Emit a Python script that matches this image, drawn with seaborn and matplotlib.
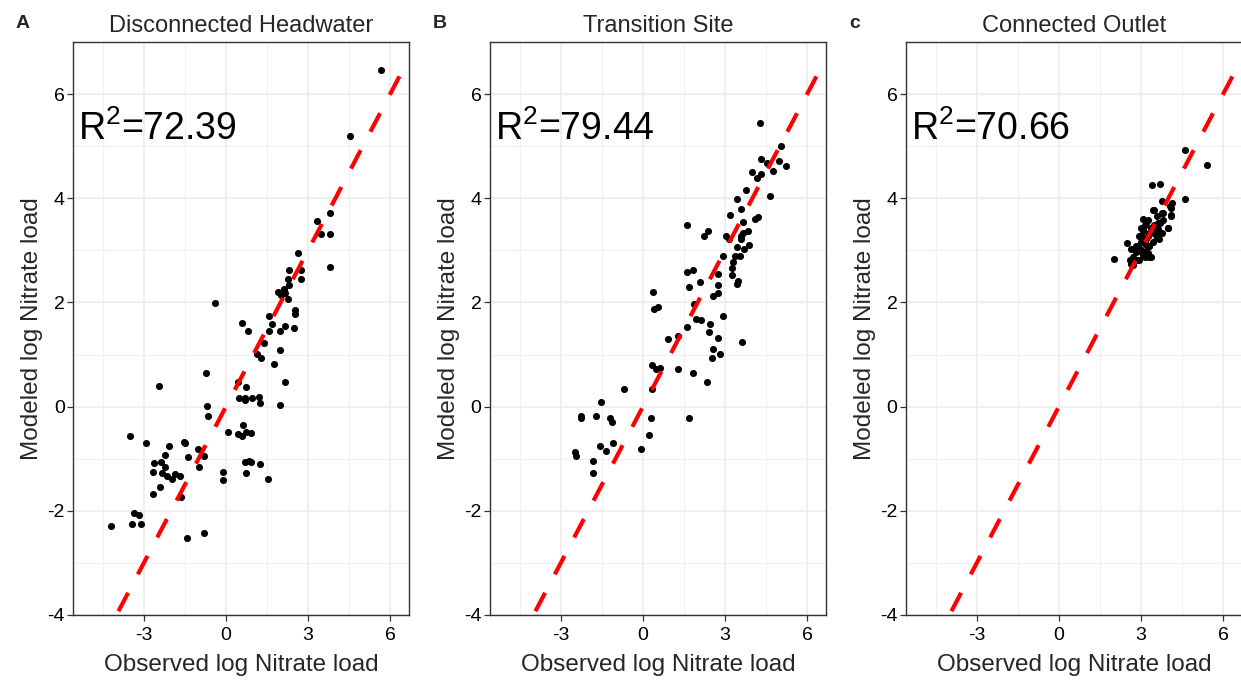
import numpy as np
import pandas as pd
import seaborn as sns
from matplotlib import pyplot as plt
from matplotlib.ticker import MultipleLocator

# Disconnected Headwater (observed vs modeled log nitrate load)
obs_headwater = [5.68, 4.53, 3.33, 3.80, 3.49, 3.80, 3.80, 2.65, 2.29, 2.76,
                 2.25, 2.76, 2.29, 1.91, 2.12, 2.14, 2.00, 2.25, -0.40, 1.57,
                 2.53, 2.53, 0.57, 0.79, 1.70, 2.17, 1.57, 1.97, 2.48, 1.39,
                 1.14, 1.29, 1.97, 1.75, 2.17, -0.73, -2.45, 0.43, 0.75, 0.47,
                 0.70, 0.70, 0.97, 1.22, 1.24, 1.97, -0.70, -0.67, 0.61, 0.06,
                 0.43, 0.57, 0.75, 0.93, -3.49, -2.93, -2.08, -1.52, -1.48, -1.03,
                 -2.21, -1.39, -0.80, -2.63, -2.38, -2.21, -0.97, -2.66, -2.34, -2.16,
                 -1.97, -1.86, -1.67, -2.40, -2.66, -1.65, -0.12, -0.12, 0.72, 1.25,
                 0.69, 0.84, 0.93, 1.52, -3.36, -3.18, -4.21, -3.44, -3.11, -0.80,
                 -1.43]
mod_headwater = [6.46, 5.19, 3.57, 3.72, 3.31, 3.31, 2.69, 2.95, 2.62, 2.63,
                 2.45, 2.45, 2.34, 2.21, 2.26, 2.18, 2.15, 2.07, 1.99, 1.74,
                 1.85, 1.78, 1.60, 1.46, 1.58, 1.55, 1.46, 1.46, 1.51, 1.22,
                 1.01, 0.93, 1.08, 0.82, 0.48, 0.64, 0.40, 0.48, 0.37, 0.16,
                 0.12, 0.16, 0.16, 0.19, 0.07, 0.04, 0.01, -0.18, -0.35, -0.49,
                 -0.53, -0.56, -0.48, -0.51, -0.56, -0.70, -0.75, -0.67, -0.70, -0.82,
                 -0.92, -0.97, -0.95, -1.09, -1.06, -1.15, -1.16, -1.26, -1.28, -1.33,
                 -1.38, -1.30, -1.33, -1.54, -1.67, -1.73, -1.25, -1.40, -1.28, -1.11,
                 -1.06, -1.04, -1.07, -1.38, -2.04, -2.09, -2.29, -2.26, -2.26, -2.43,
                 -2.53]

# Transition Site
obs_transition = [4.28, 5.05, 4.33, 4.55, 4.97, 5.24, 4.74, 4.00, 4.33, 4.18,
                  3.78, 4.64, 3.45, 3.60, 3.17, 4.22, 4.10, 1.60, 2.37, 2.24,
                  3.66, 3.85, 3.66, 3.60, 3.05, 3.13, 3.58, 3.87, 3.43, 3.69,
                  2.92, 3.37, 3.55, 3.28, 3.24, 1.60, 1.83, 2.74, 3.24, 2.10,
                  3.49, 3.42, 1.70, 2.76, 2.74, 2.57, 0.37, 0.55, 0.40, 1.85,
                  2.93, 1.95, 2.12, 2.46, 1.60, 2.42, 2.74, 0.93, 1.27, 3.61,
                  2.56, 2.82, 2.53, 0.33, 0.48, 0.63, 1.28, 1.82, 2.33, -0.70,
                  0.33, -1.53, -2.25, -2.25, -1.71, -1.21, -1.12, 0.29, 1.68, 0.24,
                  -1.08, -1.58, -1.35, -0.07, -2.47, -2.43, -1.84, -1.84]
mod_transition = [5.45, 5.00, 4.76, 4.67, 4.71, 4.61, 4.53, 4.50, 4.46, 4.38,
                  4.15, 4.05, 3.99, 3.80, 3.67, 3.64, 3.60, 3.48, 3.38, 3.27,
                  3.54, 3.38, 3.34, 3.28, 3.27, 3.22, 3.22, 3.11, 3.06, 3.03,
                  2.90, 2.90, 2.90, 2.78, 2.67, 2.59, 2.62, 2.55, 2.52, 2.40,
                  2.42, 2.35, 2.30, 2.33, 2.19, 2.13, 2.21, 1.92, 1.87, 1.97,
                  1.74, 1.68, 1.67, 1.58, 1.53, 1.44, 1.31, 1.30, 1.36, 1.25,
                  1.10, 1.01, 0.93, 0.79, 0.72, 0.74, 0.72, 0.64, 0.48, 0.33,
                  0.33, 0.09, -0.18, -0.22, -0.18, -0.22, -0.29, -0.22, -0.22, -0.54,
                  -0.70, -0.76, -0.85, -0.82, -0.87, -0.95, -1.04, -1.28]

# Connected Outlet
obs_outlet = [4.62, 5.40, 3.41, 3.71, 4.62, 3.77, 4.14, 4.10, 3.46, 3.77,
              3.58, 4.09, 3.07, 3.25, 3.80, 3.68, 3.13, 3.49, 3.00, 3.38,
              3.61, 4.00, 3.07, 3.31, 3.55, 3.78, 3.25, 3.60, 3.19, 3.00,
              3.43, 2.50, 3.13, 2.88, 3.31, 2.64, 3.00, 3.19, 2.82, 3.07,
              3.31, 2.70, 2.00, 2.58, 2.88, 2.64, 3.13, 2.94, 3.43, 3.80,
              4.07, 4.10, 3.98, 3.61, 3.07, 3.00, 3.13, 3.31, 3.25, 3.37,
              2.95, 2.82, 3.19, 3.49, 3.67, 2.70, 2.92]
mod_outlet = [4.92, 4.63, 4.25, 4.28, 3.98, 3.94, 3.91, 3.82, 3.78, 3.72,
              3.65, 3.67, 3.60, 3.59, 3.59, 3.53, 3.49, 3.49, 3.43, 3.43,
              3.41, 3.43, 3.37, 3.33, 3.30, 3.33, 3.27, 3.24, 3.21, 3.17,
              3.17, 3.14, 3.13, 3.09, 3.08, 3.03, 3.01, 2.98, 2.96, 2.92,
              2.88, 2.88, 2.84, 2.82, 2.82, 2.74, 2.88, 3.27, 3.78, 3.72,
              3.85, 3.65, 3.43, 3.53, 3.40, 3.27, 3.17, 3.08, 2.95, 2.88,
              2.98, 3.08, 3.53, 3.33, 3.21, 2.72, 2.82]

site_titles = ['Disconnected Headwater', 'Transition Site', 'Connected Outlet']
panel_tags = ['A', 'B', 'c']
r2_values = [72.39, 79.44, 70.66]

sns.set_style('whitegrid', {'grid.color': '#EBEBEB', 'axes.edgecolor': '#333333'})
plt.rcParams['font.family'] = ['Liberation Sans', 'DejaVu Sans']
plt.rcParams['mathtext.fontset'] = 'custom'
plt.rcParams['mathtext.rm'] = 'Liberation Sans'
plt.rcParams['mathtext.default'] = 'regular'
plt.rcParams['axes.unicode_minus'] = False

XLIM = (-5.59, 6.69)
YLIM = (-4, 7)

fig = plt.figure(figsize=(12.41, 6.84), dpi=100)
lefts = [0.0588, 0.3948, 0.7300]

site_data = [(obs_headwater, mod_headwater),
             (obs_transition, mod_transition),
             (obs_outlet, mod_outlet)]

for i, (obs, mod) in enumerate(site_data):
    ax = fig.add_axes([lefts[i], 0.1009, 0.2708, 0.8377])
    df = pd.DataFrame({'observed': obs, 'modeled': mod})

    sns.scatterplot(x='observed', y='modeled', data=df, ax=ax, color='black',
                    s=26, linewidth=0, zorder=3)

    # 1:1 line
    ax.plot(XLIM, XLIM, color='red', lw=3, dashes=(5, 5), zorder=4)

    ax.set_xlim(*XLIM)
    ax.set_ylim(*YLIM)
    ax.xaxis.set_major_locator(MultipleLocator(3))
    ax.xaxis.set_minor_locator(MultipleLocator(1.5))
    ax.yaxis.set_major_locator(MultipleLocator(2))
    ax.yaxis.set_minor_locator(MultipleLocator(1))
    ax.grid(which='major', color='#EBEBEB', lw=1.1)
    ax.grid(which='minor', color='#F0F0F0', lw=0.8)
    ax.set_axisbelow(True)

    for sp in ax.spines.values():
        sp.set_color('#333333')
        sp.set_linewidth(1.0)

    ax.tick_params(which='major', direction='out', length=4, width=0.9,
                   color='#333333', labelsize=14, labelcolor='black',
                   bottom=True, left=True, pad=2)
    ax.tick_params(axis='x', which='major', pad=5)
    ax.tick_params(which='minor', length=0)

    ax.set_xlabel('Observed log Nitrate load', fontsize=17.5, labelpad=7)
    ax.set_ylabel('Modeled log Nitrate load', fontsize=17.5, labelpad=3)
    ax.set_title(site_titles[i], fontsize=17, pad=7)

    ax.text(-5.4, 5.32, r'R$^2$=' + f'{r2_values[i]:.2f}', fontsize=27,
            ha='left', va='center', color='black')

    fig.text(lefts[i] - 0.046, 0.978, panel_tags[i], fontsize=14,
             fontweight='bold', ha='left', va='top')

plt.savefig('out.png', dpi=100)
